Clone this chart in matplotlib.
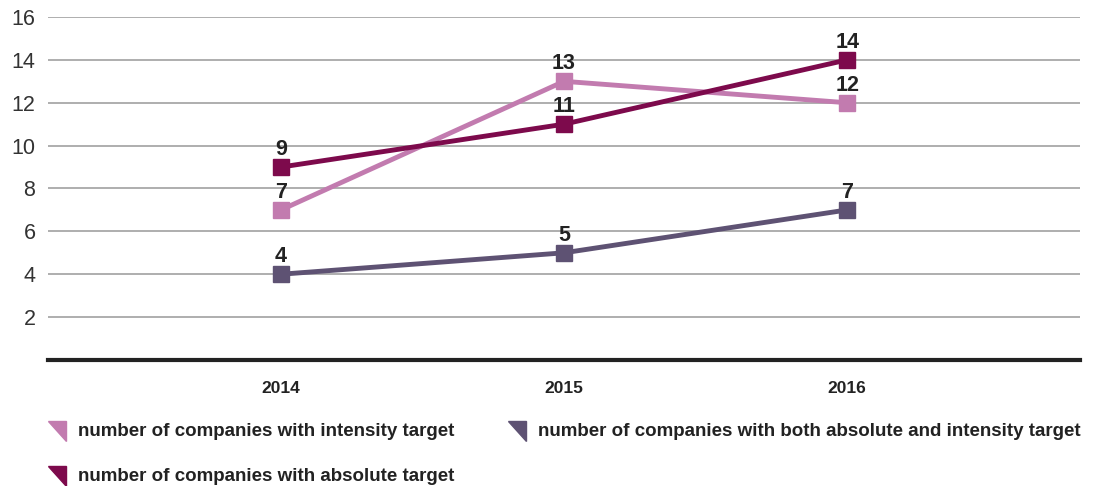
import matplotlib.pyplot as plt
from matplotlib.patches import Polygon

years = ["2014", "2015", "2016"]
intensity = [7, 13, 12]
absolute = [9, 11, 14]
both = [4, 5, 7]

labels = [
    "number of companies with intensity target",
    "number of companies with both absolute and intensity target",
    "number of companies with absolute target",
]

c_intensity = "#C27BAF"
c_absolute = "#7D0A4C"
c_both = "#5E5273"

plt.rcParams["font.family"] = ["Liberation Sans", "DejaVu Sans"]

fig = plt.figure(figsize=(10.98, 4.86), dpi=100)
ax = fig.add_axes([0.0437, 0.2593, 0.94, 0.7057])

x = list(range(len(years)))
series = [(intensity, c_intensity), (absolute, c_absolute), (both, c_both)]
for vals, col in series:
    ax.plot(x, vals, color=col, lw=3.5, marker="s", ms=11, mec=col, mfc=col, zorder=3)
    for xi, v in zip(x, vals):
        ax.annotate(str(v), (xi, v), xytext=(0, 5), textcoords="offset points",
                    ha="center", va="bottom", fontsize=15.5, fontweight="bold", color="#222222")

ax.set_xlim(-0.823, 2.823)
ax.set_ylim(0, 16)
ax.set_yticks([2, 4, 6, 8, 10, 12, 14, 16])
ax.set_xticks(x)
ax.set_xticklabels(years, fontsize=12.5, fontweight="bold", color="#222222")
ax.tick_params(axis="y", length=0, labelsize=15.5, labelcolor="#333333", pad=9)
ax.tick_params(axis="x", length=0, pad=15)
ax.grid(axis="y", color="#999999", lw=1.1)
ax.set_axisbelow(True)
for s in ["top", "right", "left"]:
    ax.spines[s].set_visible(False)
ax.spines["bottom"].set_color("#222222")
ax.spines["bottom"].set_linewidth(3)

# legend: triangle swatches with bold labels
W, H = 1098, 486
legend_items = [
    (labels[0], c_intensity, 48, 421),
    (labels[1], c_both, 508, 421),
    (labels[2], c_absolute, 48, 466),
]
for text, col, px, py in legend_items:
    pts = [(px, py), (px + 18, py), (px + 18, py + 20)]
    fig.patches.append(Polygon([(a / W, 1 - b / H) for a, b in pts], closed=True,
                               transform=fig.transFigure, color=col))
    fig.text((px + 30) / W, 1 - (py + 10) / H, text, fontsize=13.5, fontweight="bold",
             color="#222222", va="center", ha="left")

fig.savefig("out.png", dpi=100)
